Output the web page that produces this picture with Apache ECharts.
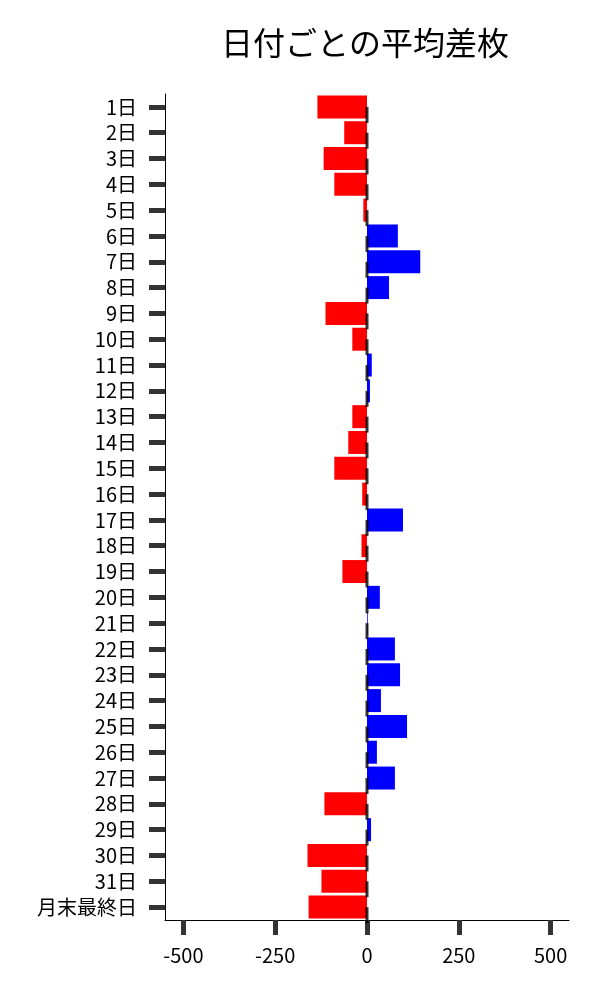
<!DOCTYPE html>
<html>
<head>
<meta charset="utf-8">
<script src="https://cdn.jsdelivr.net/npm/echarts@6/dist/echarts.min.js"></script>
<style>
  html, body { margin: 0; padding: 0; background: #fff; }
  #chart { width: 600px; height: 1000px; }
</style>
</head>
<body>
<div id="chart"></div>
<script>
// 日付ごとの平均差枚
var days = ['1日', '2日', '3日', '4日', '5日', '6日', '7日', '8日', '9日', '10日',
  '11日', '12日', '13日', '14日', '15日', '16日', '17日', '18日', '19日', '20日',
  '21日', '22日', '23日', '24日', '25日', '26日', '27日', '28日', '29日', '30日',
  '31日', '月末最終日'];
var avgDiff = [-135, -62, -118, -89, -10, 84, 145, 60, -113, -40,
  13, 8, -40, -51, -89, -13, 98, -15, -67, 35,
  2, 76, 90, 38, 109, 27, 76, -116, 11, -162,
  -124, -159];
var zeroMarks = days.map(function () { return 0; });
var xTicks = [-500, -250, 0, 250, 500];

var chart = echarts.init(document.getElementById('chart'));
var font = '"Noto Sans CJK JP", "Noto Sans", sans-serif';

var option = {
  animation: false,
  title: {
    text: '日付ごとの平均差枚',
    left: 360,
    top: 22,
    textAlign: 'center',
    textStyle: { fontFamily: font, fontSize: 32, fontWeight: 'normal', color: '#000' }
  },
  grid: { left: 165, right: 31, top: 94, bottom: 80, containLabel: false },
  xAxis: {
    type: 'value',
    min: -550,
    max: 550,
    splitLine: { show: false },
    axisLine: { show: true, onZero: false, lineStyle: { color: '#000', width: 1 } },
    axisTick: {
      show: true,
      customValues: xTicks,
      length: 15,
      lineStyle: { color: '#333', width: 5 }
    },
    axisLabel: {
      customValues: xTicks,
      margin: 25,
      fontFamily: font,
      fontSize: 20,
      color: '#000'
    }
  },
  yAxis: {
    type: 'category',
    data: days,
    inverse: true,
    axisLine: { show: true, onZero: false, lineStyle: { color: '#000', width: 1 } },
    axisTick: {
      show: true,
      interval: 0,
      alignWithLabel: true,
      length: 16,
      lineStyle: { color: '#333', width: 5 }
    },
    axisLabel: {
      interval: 0,
      margin: 28,
      fontFamily: font,
      fontSize: 20,
      color: '#000'
    }
  },
  series: [
    {
      type: 'bar',
      data: avgDiff,
      barCategoryGap: '11%',
      itemStyle: {
        color: function (p) { return p.value < 0 ? '#ff0000' : '#0000ff'; }
      }
    },
    {
      type: 'scatter',
      data: zeroMarks,
      symbol: 'rect',
      symbolSize: [3, 16],
      symbolOffset: [0, 8],
      itemStyle: { color: '#000' },
      z: 5
    }
  ]
};

chart.setOption(option);
window.addEventListener('resize', function () { chart.resize(); });
</script>
</body>
</html>
